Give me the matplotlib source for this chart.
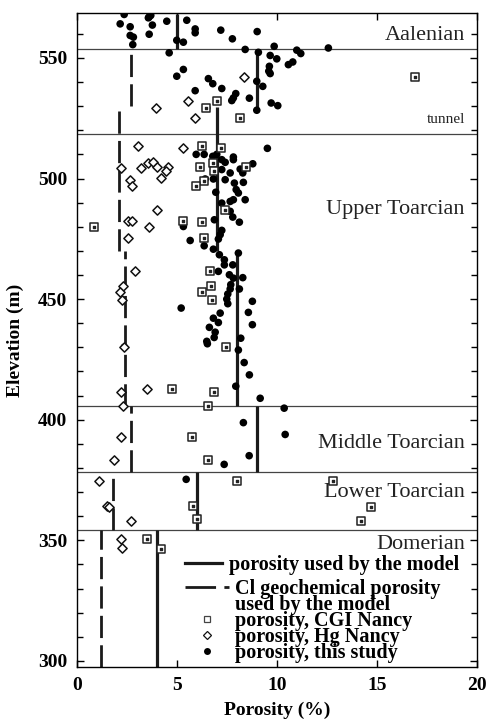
import numpy as np
import matplotlib
matplotlib.use("Agg")
import matplotlib.pyplot as plt
from matplotlib.lines import Line2D

plt.rcParams['font.family'] = ['Liberation Serif', 'DejaVu Serif']

# porosity measured in this study (%), elevation (m)
study_por = [2.37, 2.17, 2.67, 2.67, 2.83, 2.80, 3.62, 3.58, 3.70, 3.78, 3.62, 4.50, 5.50, 5.92,
             5.92, 5.00, 5.33, 4.62, 7.20, 7.78, 9.02, 8.42, 9.08, 9.87, 9.67, 10.0, 11.0, 11.2,
             12.58, 9.63, 9.60, 9.67, 10.58, 10.8, 5.33, 5.00, 6.58, 6.80, 7.25, 5.92, 9.00, 9.30,
             7.95, 7.83, 7.75, 8.63, 9.00, 9.72, 10.05, 6.50,
             9.53, 5.97, 6.37, 6.80, 7.00, 7.25, 7.42, 7.83, 7.83, 8.80, 8.17, 8.33, 7.25, 7.67,
             6.42, 6.83, 7.42, 8.30, 8.33, 7.88, 6.95, 7.97, 8.08, 7.83, 8.42, 7.67, 7.25, 7.67,
             7.80, 8.13, 6.88, 5.33, 7.25, 7.17, 7.08, 5.67, 6.37, 6.83, 7.13, 7.38, 7.80, 8.08,
             7.38, 7.08,
             7.63, 7.83, 8.30, 7.70, 7.67, 8.13, 7.55, 7.50, 7.55, 8.78, 5.22, 7.17, 8.58, 6.83,
             7.08, 8.78, 6.63, 6.92, 6.87, 6.50, 6.53, 8.20, 8.08, 8.37, 8.63, 7.95, 9.17, 10.37,
             2.38,
             8.33, 10.42, 8.62, 7.37, 5.47]
study_elev = [568.0, 564.1, 562.9, 559.3, 558.6, 555.5, 567.0, 566.6, 567.6, 563.6, 559.8, 565.2,
              565.6, 562.0, 560.4, 557.3, 556.5, 552.1, 561.5, 557.9, 560.9, 553.5, 552.3, 554.8,
              551.0, 549.6, 553.2, 551.8, 554.1, 546.5, 544.5, 543.5, 547.2, 548.3, 545.2, 542.4,
              541.4, 539.3, 537.3, 536.4, 540.3, 538.2, 535.2, 533.4, 532.3, 533.3, 528.3, 531.3,
              530.2, 529.2,
              512.5, 510.0, 510.0, 509.2, 510.0, 507.8, 506.7, 508.9, 507.8, 506.1, 503.9, 503.7,
              503.7, 502.3, 499.8, 499.8, 499.5, 502.3, 498.4, 498.1, 494.3, 495.4, 494.0, 491.2,
              491.2, 490.5, 489.8, 486.4, 484.0, 481.9, 482.9, 480.1, 478.5, 476.7, 474.9, 474.3,
              472.1, 470.7, 468.4, 466.3, 464.2, 469.1, 464.2, 461.5,
              460.1, 458.7, 458.9, 456.0, 454.2, 454.2, 452.1, 450.0, 448.1, 449.1, 446.3, 444.2,
              444.5, 442.1, 440.3, 439.4, 438.3, 436.3, 434.1, 432.5, 431.5, 433.8, 428.9, 423.7,
              418.6, 413.9, 408.9, 404.8,
              430.1,
              398.8, 393.9, 385.1, 381.5, 375.3]

# porosity, CGI Nancy
cgi_por = [16.9, 7.00, 8.17, 6.47,
           6.25, 7.20, 6.17, 6.80, 6.87, 8.47, 6.37, 5.97, 7.42, 0.88, 5.30, 6.27, 6.38, 6.67,
           6.70, 6.27, 6.75, 7.47, 4.78, 6.88, 6.58,
           5.78, 6.55, 8.00, 12.8, 14.72, 14.2, 5.83, 6.00,
           3.53, 4.20]
cgi_elev = [542.1, 532.0, 525.1, 529.2,
            513.3, 512.8, 504.6, 506.4, 503.0, 504.6, 499.1, 497.0, 487.1, 480.1, 482.5, 481.9,
            475.3, 461.5,
            455.6, 452.8, 449.5, 430.1, 412.8, 411.4, 405.9,
            392.7, 383.3, 374.6, 374.6, 363.9, 358.1, 364.2, 358.7,
            350.4, 346.6]

# porosity, Hg Nancy
hg_por = [8.38, 5.58, 3.97, 5.92,
          3.08, 5.33, 2.22, 3.20, 3.58, 3.83, 4.03, 4.58, 4.47, 4.20, 2.67, 2.75, 4.00, 2.55,
          2.75, 3.63, 2.58, 2.92,
          2.30, 2.17, 2.28, 2.38, 3.50, 2.22, 2.30,
          2.20, 1.87, 1.12, 1.50, 1.63, 2.70,
          2.20, 2.25]
hg_elev = [542.1, 532.3, 529.1, 525.0,
           513.3, 512.6, 504.3, 504.3, 506.4, 506.7, 504.8, 504.8, 503.0, 500.2, 499.2, 497.0,
           487.1, 482.2, 482.5, 480.1, 475.3, 461.5,
           455.6, 452.8, 449.5, 430.1, 412.8, 411.4, 405.8,
           392.7, 383.3, 374.6, 364.2, 363.9, 358.1,
           350.4, 346.9]

# porosity used by the model: value, top, bottom
model_por = [5.0, 9.0, 7.0, 8.0, 9.0, 6.0, 4.0]
model_top = [568.0, 553.5, 529.5, 470.0, 405.5, 378.5, 354.5]
model_bot = [553.5, 528.0, 470.0, 405.5, 378.5, 354.5, 297.5]

# Cl geochemical porosity used by the model
cl_por = [2.7, 2.1, 2.4, 2.7, 1.8, 1.2]
cl_top = [553.5, 530.0, 470.0, 405.5, 378.5, 354.5]
cl_bot = [530.0, 470.0, 405.5, 378.5, 354.5, 297.5]

# stratigraphic boundaries and labels
bounds = [553.5, 518.5, 405.5, 378.5, 354.5]
unit_names = ["Aalenian", "Upper Toarcian", "Middle Toarcian", "Lower Toarcian", "Domerian"]
unit_elev = [559.3, 487.0, 390.3, 369.8, 348.3]

fig = plt.figure(figsize=(4.89, 7.24), dpi=100)
ax = fig.add_axes([0.157, 0.0787, 0.818, 0.903])

for b in bounds:
    ax.axhline(b, color='#444444', lw=0.9, zorder=1)

dash = (0, (8, 2.6))
ax.vlines(model_por, model_bot, model_top, colors='#1a1a1a', lw=2.3, zorder=2)
ax.vlines(cl_por, cl_bot, cl_top, colors='#1a1a1a', lw=2.0, linestyles=[dash], zorder=2)

ax.scatter(study_por, study_elev, s=30, c='black', edgecolors='none', zorder=3)
ax.scatter(cgi_por, cgi_elev, s=30, marker='s', facecolors='white',
           edgecolors='#222222', linewidths=1.1, zorder=4)
ax.scatter(cgi_por, cgi_elev, s=2, marker='s', c='#222222', zorder=5)
ax.scatter(hg_por, hg_elev, s=22, marker='D', facecolors='white',
           edgecolors='#111111', linewidths=1.1, zorder=4)

for name, e in zip(unit_names, unit_elev):
    ax.text(19.4, e, name, ha='right', va='center', fontsize=16, color='#222222')
ax.text(19.4, 524.5, "tunnel", ha='right', va='center', fontsize=11, color='#222222')

ax.set_xlim(0, 20)
ax.set_ylim(297.5, 568.5)
ax.set_xticks([0, 5, 10, 15, 20])
ax.set_yticks([300, 350, 400, 450, 500, 550])
ax.set_yticks(np.arange(300, 570, 10), minor=True)
ax.tick_params(which='both', direction='in', top=True, right=True, width=1.0)
ax.tick_params(which='major', length=5, labelsize=14, pad=7)
ax.tick_params(which='minor', length=4)
for lab in ax.get_xticklabels() + ax.get_yticklabels():
    lab.set_fontweight('bold')
for sp in ax.spines.values():
    sp.set_linewidth(1.0)

ax.set_xlabel("Porosity (%)", fontsize=14, fontweight='bold', labelpad=6)
ax.set_ylabel("Elevation (m)", fontsize=14, fontweight='bold', labelpad=10)

# legend, in two blocks like the original
legprop = {'family': 'Liberation Serif', 'weight': 'bold', 'size': 14.5}
leg1 = ax.legend([Line2D([], [], color='#1a1a1a', lw=2.3)],
                 ["porosity used by the model"],
                 loc='upper left', bbox_to_anchor=(0.27, 0.172), frameon=False,
                 borderpad=0, borderaxespad=0, handlelength=1.85, handletextpad=0.35,
                 prop=legprop)
ax.add_artist(leg1)

handles = [
    Line2D([], [], color='#1a1a1a', lw=2.0, linestyle=(0, (11, 3))),
    Line2D([], [], ls='none'),
    Line2D([], [], ls='none', marker='s', ms=5, mfc='white', mec='#444444', mew=0.9),
    Line2D([], [], ls='none', marker='D', ms=4, mfc='white', mec='#111111', mew=0.9),
    Line2D([], [], ls='none', marker='o', ms=5, mfc='black', mec='none'),
]
labels = ["Cl geochemical porosity",
          "used by the model",
          "porosity, CGI Nancy",
          "porosity, Hg Nancy",
          "porosity, this study"]
leg2 = ax.legend(handles, labels, loc='upper left', bbox_to_anchor=(0.27, 0.135),
                 frameon=False, borderpad=0, borderaxespad=0, handlelength=2.2,
                 handletextpad=0.3, labelspacing=-0.2, prop=legprop)

fig.savefig("out.png", dpi=100)
